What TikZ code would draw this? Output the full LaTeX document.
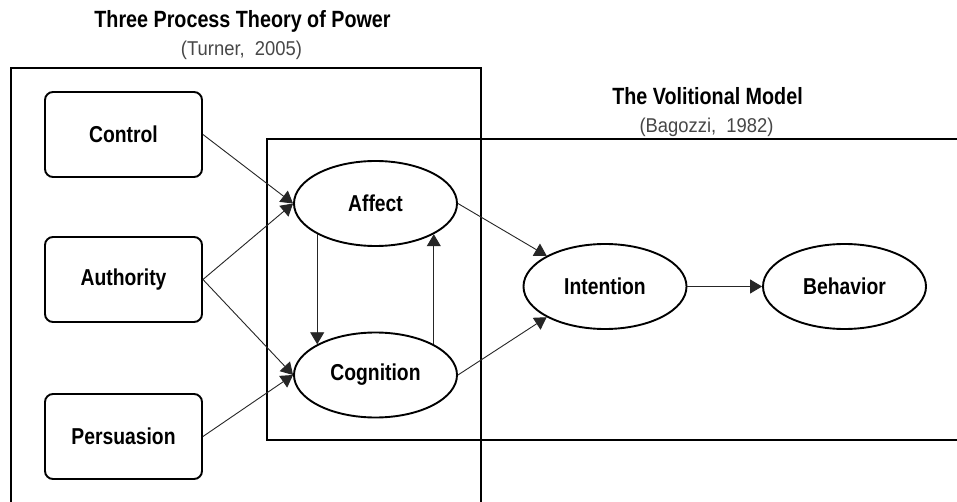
\documentclass[tikz,border=0pt]{standalone}
\usepackage{fontspec}
\setmainfont{Liberation Sans}[FakeStretch=0.84]
\newfontfamily\subfont{Liberation Sans}[FakeStretch=0.92]
\usetikzlibrary{shapes.geometric,arrows.meta}
\begin{document}
\begin{tikzpicture}[x=1pt,y=-1pt,
  box/.style={draw, line width=1.9pt, rounded corners=8pt, minimum width=157pt, minimum height=85pt, inner sep=0pt, font=\fontsize{23}{27}\selectfont\bfseries},
  ell/.style={draw, ellipse, line width=1.9pt, minimum width=163pt, minimum height=85pt, inner sep=0pt, font=\fontsize{23}{27}\selectfont\bfseries},
  frame/.style={draw, line width=1.9pt},
  arr/.style={draw=black!85, line width=0.9pt, -{Triangle[length=12pt,width=14pt]}},
  ttl/.style={anchor=base, font=\fontsize{23.5}{27}\selectfont\bfseries},
  sub/.style={anchor=base, text=black!72, font=\subfont\fontsize{20}{24}\selectfont}]
\useasboundingbox (0,0) rectangle (957,502);
\clip (0,0) rectangle (957,502);
\fill[white] (0,0) rectangle (957,502);
% frames
\draw[frame] (11,68) rectangle (481,530);
\draw[frame] (267,139) rectangle (990,440);
% titles
\node[ttl] (t1) at (242.5,28) {Three Process Theory of Power};
\node[sub] (s1) at (241.5,56) {(Turner,\ \ 2005)};
\node[ttl] (t2) at (707.5,105) {The Volitional Model};
\node[sub] (s2) at (706.5,133) {(Bagozzi,\ \ 1982)};
% boxes
\node[box] (control) at (123.5,134.5) {Control};
\node[box] (authority) at (123.5,279.5) {Authority};
\node[box] (persuasion) at (123.5,436.5) {Persuasion};
% ellipses
\node[ell] (affect) at (375.5,203.5) {Affect};
\node[ell] (cognition) at (375.5,375) {Cognition};
\node[ell] (intention) at (605,286.5) {Intention};
\node[ell] (behavior) at (844.5,286.5) {Behavior};
% connectors
\draw[arr] (control.east) -- (affect.west);
\draw[arr] (authority.east) -- (affect.west);
\draw[arr] (authority.east) -- (cognition.west);
\draw[arr] (persuasion.east) -- (cognition.west);
\draw[arr] (affect.south west) -- (cognition.north west);
\draw[arr] (cognition.north east) -- (affect.south east);
\draw[arr] (affect.east) -- (intention.north west);
\draw[arr] (cognition.east) -- (intention.south west);
\draw[arr] (intention.east) -- (behavior.west);
\end{tikzpicture}
\end{document}
